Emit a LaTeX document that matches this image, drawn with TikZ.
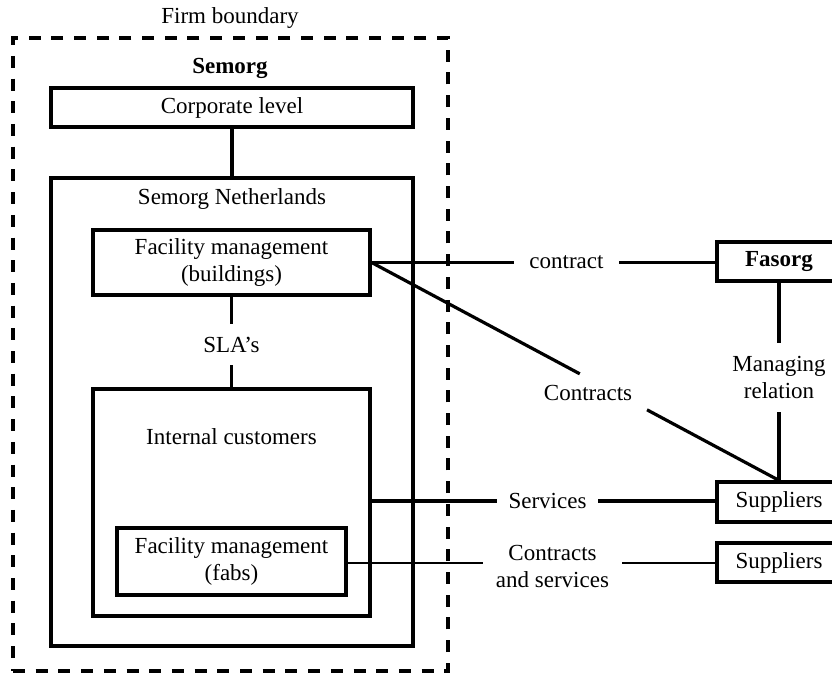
\documentclass[tikz,border=0pt]{standalone}
\usepackage{fontspec}
\setmainfont{Liberation Serif}
\usetikzlibrary{calc}
\begin{document}
\begin{tikzpicture}[x=1pt,y=-1pt,
  font=\fontsize{23}{27}\selectfont,
  box/.style={draw=black,line width=3.2pt,inner sep=0pt,fill=none},
  lbl/.style={inner sep=0pt,align=center},
  conn/.style={line width=3.2pt},
  thinconn/.style={line width=2.6pt},
  boundary/.style={draw=black,line width=3.3pt,dash pattern=on 12pt off 10.7pt}]
\useasboundingbox (0,0) rectangle (832,674);
% firm boundary
\node[boundary,minimum width=435pt,minimum height=633pt,inner sep=0pt] (firm) at (230.5,354.5) {};
\node[lbl] (firmlbl) at (230,18) {Firm boundary};
\node[lbl] (semorg) at (230,68) {\bfseries Semorg};
% boxes
\node[box,minimum width=362pt,minimum height=39pt] (corp) at (232,107.5) {Corporate level};
\node[box,minimum width=362pt,minimum height=468pt] (sn) at (232,412) {};
\node[lbl] (snlbl) at (232,199) {Semorg Netherlands};
\node[box,minimum width=277pt,minimum height=65pt,align=center] (fmb) at (231.5,262.5) {Facility management\\(buildings)};
\node[box,minimum width=277pt,minimum height=227pt] (ic) at (231.5,502.5) {};
\node[lbl] (iclbl) at (231.5,437) {Internal customers};
\node[box,minimum width=229pt,minimum height=67pt,align=center] (fabs) at (231.5,561.5) {Facility management\\(fabs)};
\node[box,minimum width=124pt,minimum height=39pt] (fasorg) at (779,261.5) {\bfseries Fasorg};
\node[box,minimum width=124pt,minimum height=40pt] (sup1) at (779,502) {Suppliers};
\node[box,minimum width=124pt,minimum height=39pt] (sup2) at (779,562.5) {Suppliers};
% labels on connectors
\node[lbl,minimum height=41pt] (sla) at (231.5,344.5) {SLA's};
\node[lbl,minimum width=105pt] (ctr) at (566.5,262.5) {contract};
\node[lbl,minimum height=69pt] (mgr) at (779,377.5) {Managing\\relation};
\node[lbl] (ctrs) at (588,393) {Contracts};
\node[lbl,minimum width=101pt] (svc) at (547.5,501) {Services};
\node[lbl,minimum width=139pt] (cas) at (552.5,566.5) {Contracts\\and services};
% connectors
\draw[conn] (corp.south) -- (sn.north);
\draw[conn] (fmb.south) -- (sla.north);
\draw[conn] (sla.south) -- (ic.north);
\draw[conn] (fmb.east) -- (ctr.west);
\draw[conn] (ctr.east) -- (ctr.east -| fasorg.west);
\draw[conn] (fasorg.south) -- (mgr.north);
\draw[conn] (mgr.south) -- (sup1.north);
\coordinate (dgA) at ($(fmb.east)!0.511!(sup1.north)$);
\coordinate (dgB) at ($(fmb.east)!0.676!(sup1.north)$);
\draw[conn] (fmb.east) -- (dgA);
\draw[conn] (dgB) -- (sup1.north);
\draw[line width=3.6pt] (svc.west -| ic.east) -- (svc.west);
\draw[line width=3.6pt] (svc.east) -- (svc.east -| sup1.west);
\draw[thinconn] (fabs.east |- 0,563) -- (cas.west |- 0,563);
\draw[thinconn] (cas.east |- 0,563) -- (sup2.west |- 0,563);
\end{tikzpicture}
\end{document}
